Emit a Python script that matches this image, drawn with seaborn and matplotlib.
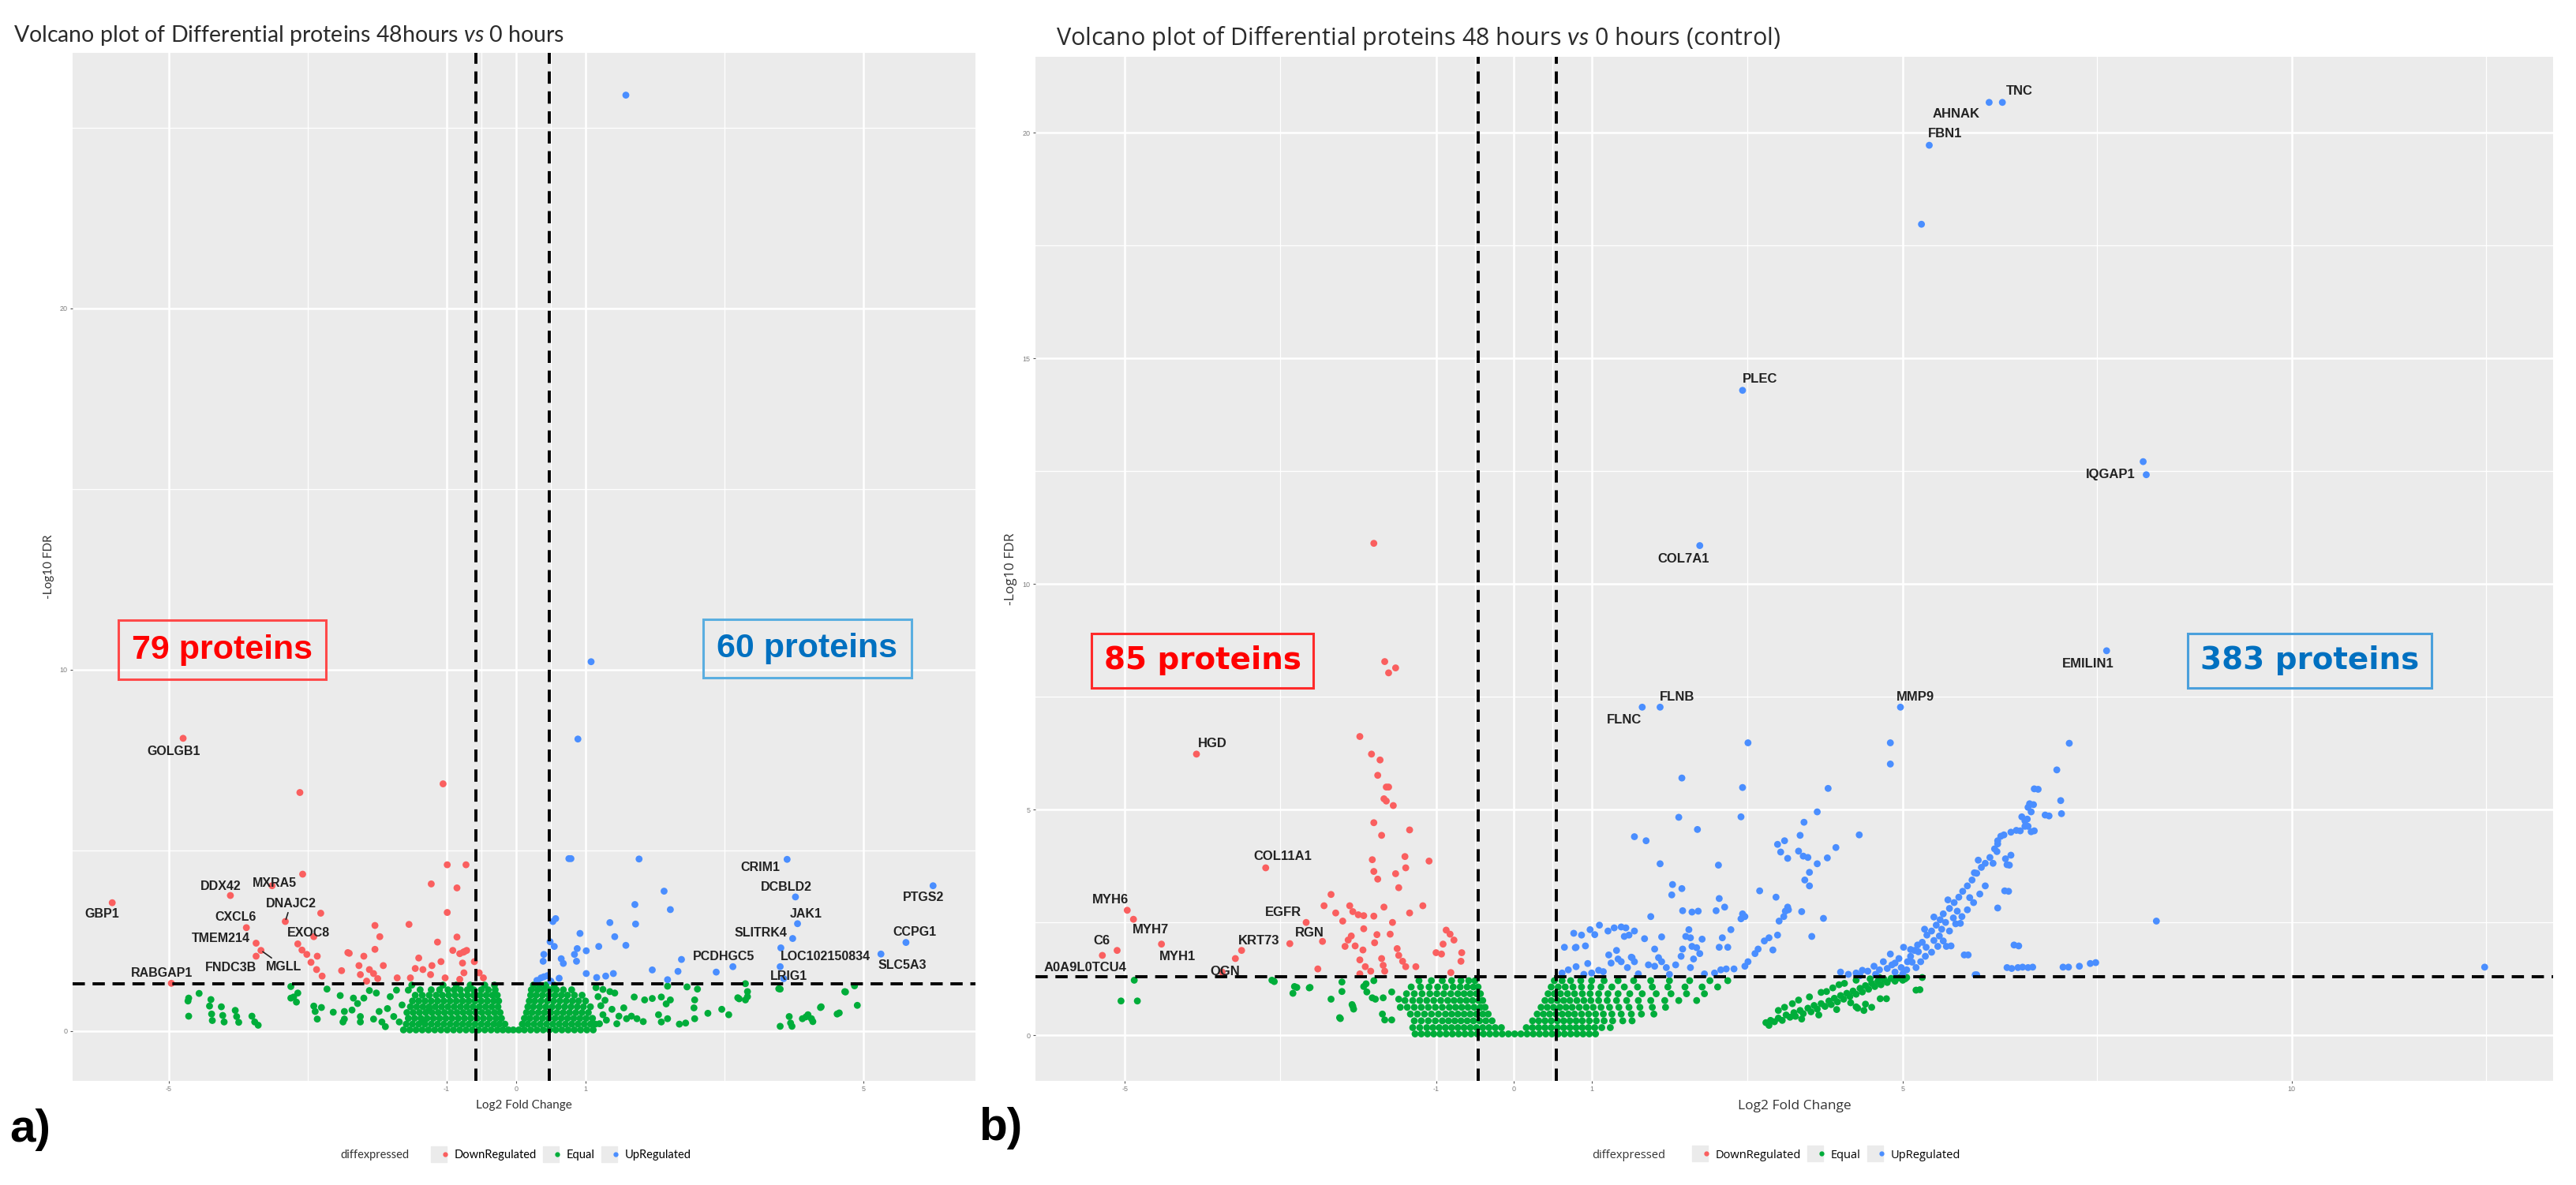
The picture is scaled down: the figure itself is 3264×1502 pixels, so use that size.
import pandas as pd
import matplotlib
matplotlib.use("Agg")
import matplotlib.pyplot as plt
from matplotlib.lines import Line2D
from matplotlib.legend_handler import HandlerTuple
import seaborn as sns

plt.rcParams['font.family'] = ['Liberation Sans', 'DejaVu Sans']
plt.rcParams['axes.unicode_minus'] = False
plt.rcParams['mathtext.fontset'] = 'custom'
plt.rcParams['mathtext.rm'] = 'Lato'
plt.rcParams['mathtext.it'] = 'Lato:italic'

W, H = 3264, 1502

PALETTE = {"DownRegulated": "#FA5F5F", "Equal": "#00AD3A", "UpRegulated": "#4A8EFF"}
GROUPS = ["DownRegulated", "Equal", "UpRegulated"]

# ---------------- panel a: 48hours vs 0 hours ----------------
a_down = [(-5.81, 3.55), (-4.96, 1.32), (-4.11, 3.75), (-3.51, 4.02), (-3.07, 4.34), (-3.32, 3.03),
          (-3.88, 2.86), (-3.74, 2.43), (-3.74, 2.07), (-3.67, 2.23), (-2.91, 2.61), (-2.81, 3.26),
          (-3.14, 2.41), (-3.08, 2.24), (-3.01, 2.12), (-2.86, 2.07), (-2.95, 1.90), (-2.87, 1.70),
          (-2.79, 1.52), (-2.03, 2.92), (-1.96, 2.61), (-2.03, 2.26), (-2.40, 2.15), (-2.19, 2.07),
          (-2.51, 1.67), (-2.26, 1.81), (-2.11, 1.70), (-1.91, 1.81), (-2.24, 1.56), (-2.05, 1.59),
          (-1.99, 1.45), (-2.15, 1.38), (-1.71, 1.47), (-1.54, 2.95), (-1.40, 2.02), (-1.45, 1.73),
          (-1.34, 1.70), (-1.21, 1.81), (-1.08, 1.92), (-1.23, 1.56), (-1.52, 1.47), (-1.02, 1.47),
          (-1.13, 2.46), (-1.22, 4.07), (-0.99, 4.60), (-0.72, 4.60), (-0.85, 3.96), (-0.99, 3.28),
          (-0.85, 2.60), (-0.91, 2.23), (-0.81, 2.14), (-0.71, 2.23), (-0.77, 1.88), (-0.75, 1.61),
          (-0.81, 1.43), (-0.60, 1.92), (-0.53, 1.61), (-0.47, 1.47), (-0.76, 2.18), (-0.74, 2.20),
          (-4.79, 8.10), (-3.11, 6.60), (-1.05, 6.84), (-2.42, 2.17)]

a_up = [(0.76, 4.77), (0.79, 4.77), (1.77, 4.76), (3.90, 4.75), (2.13, 3.87), (6.00, 4.02), (4.02, 3.71),
        (1.71, 3.50), (2.22, 3.36), (0.57, 3.11), (0.53, 3.03), (1.35, 3.00), (1.72, 2.96), (4.05, 2.97),
        (0.92, 2.70), (1.42, 2.61), (3.98, 2.56), (5.61, 2.45), (0.49, 2.47), (0.55, 2.34), (1.19, 2.34),
        (1.58, 2.37), (1.01, 2.22), (0.88, 2.28), (0.84, 2.12), (3.81, 2.30), (5.25, 2.13), (0.40, 2.12),
        (0.39, 1.93), (0.65, 2.00), (0.68, 1.87), (0.87, 1.93), (2.38, 1.98), (3.12, 1.78), (3.80, 1.78),
        (1.96, 1.69), (2.33, 1.65), (2.88, 1.63), (1.01, 1.59), (1.16, 1.48), (1.29, 1.52), (1.40, 1.59),
        (0.40, 1.50), (0.45, 1.53), (0.36, 1.47), (0.62, 1.46), (2.18, 1.42), (3.85, 1.45), (0.30, 1.40),
        (0.50, 1.38), (1.08, 10.22), (0.89, 8.08), (1.58, 25.9)]

a_equal_scatter = [(-4.71, 0.91), (-4.72, 0.83), (-4.71, 0.41), (-4.56, 1.04), (-4.39, 0.87), (-4.41, 0.69),
                   (-4.38, 0.47), (-4.37, 0.29), (-4.24, 0.67), (-4.22, 0.43), (-4.20, 0.25), (-4.04, 0.57),
                   (-4.02, 0.40), (-3.99, 0.24), (-3.80, 0.41), (-3.76, 0.25), (-3.71, 0.16), (-3.24, 1.23),
                   (-3.20, 0.94), (-3.14, 1.05), (-3.24, 0.91), (-3.16, 0.80), (-2.91, 0.69), (-2.89, 0.54),
                   (-2.86, 0.33), (-2.80, 0.65), (-2.63, 0.52), (-2.72, 1.16), (-2.53, 0.98), (-2.47, 0.54),
                   (-2.47, 0.33), (-2.49, 0.25), (-2.36, 0.58), (-2.34, 0.91), (-2.24, 0.40), (-2.24, 0.25),
                   (-2.28, 0.76), (-2.19, 0.91), (-2.11, 1.12), (-2.05, 0.33), (-1.97, 0.54), (-1.93, 0.25),
                   (-2.01, 1.05), (-1.85, 0.62), (-1.76, 0.40), (-1.72, 1.13), (-1.68, 0.25), (-1.55, 1.13),
                   (-1.50, 1.27), (-1.32, 0.25), (-1.25, 0.62), (-1.81, 0.95), (-1.88, 0.12), (-1.64, 0.72),
                   (2.18, 1.24), (2.46, 1.22), (2.61, 1.16), (3.30, 1.31), (3.33, 1.09), (3.19, 0.92),
                   (3.30, 0.86), (3.80, 1.16), (4.73, 1.09), (4.87, 1.25), (4.91, 0.71), (4.62, 0.47),
                   (4.38, 0.65), (4.20, 0.45), (4.25, 0.34), (4.12, 0.34), (4.27, 0.26), (3.93, 0.40),
                   (3.80, 0.13), (3.97, 0.13), (3.06, 0.45), (2.96, 0.60), (2.76, 0.49), (2.57, 0.86),
                   (2.56, 0.64), (2.57, 0.34), (2.44, 0.22), (2.35, 0.19), (2.22, 0.86), (2.09, 0.94),
                   (2.16, 0.75), (2.05, 0.45), (2.09, 0.25), (2.18, 0.34), (1.85, 0.86), (1.96, 0.90),
                   (1.70, 0.94), (1.83, 0.26), (1.74, 0.34), (1.66, 0.41), (1.42, 1.05), (1.55, 0.64),
                   (1.59, 0.34), (1.48, 0.41), (1.35, 1.09), (1.18, 0.95), (1.22, 0.70), (1.25, 0.45),
                   (1.20, 0.20), (1.30, 0.30), (1.28, 0.85), (1.38, 0.60), (1.45, 0.20), (1.15, 1.20),
                   (1.25, 1.15), (4.65, 0.50), (4.74, 1.08), (4.39, 0.67), (4.17, 0.39), (3.95, 0.22),
                   (3.33, 0.95), (3.21, 0.89), (3.78, 1.17)]

# dense cloud around log2FC = 0, read row by row
a_equal_rows = {
    0.03: [-1.62, -1.53, -1.44, -1.35, -1.26, -1.17, -1.08, -0.99, -0.90, -0.81, -0.72, -0.63, -0.54, -0.45,
           -0.36, -0.27, -0.19, -0.11, -0.04, 0.04, 0.12, 0.21, 0.30, 0.39, 0.48, 0.57, 0.66, 0.75, 0.84,
           0.93, 1.02, 1.11],
    0.19: [-1.58, -1.49, -1.40, -1.31, -1.22, -1.13, -1.04, -0.95, -0.86, -0.77, -0.68, -0.59, -0.50, -0.41,
           -0.32, -0.24, -0.16, 0.09, 0.17, 0.26, 0.35, 0.44, 0.53, 0.62, 0.71, 0.80, 0.89, 0.98, 1.07, 1.14],
    0.35: [-1.55, -1.46, -1.37, -1.28, -1.19, -1.10, -1.01, -0.92, -0.83, -0.74, -0.65, -0.56, -0.47, -0.38,
           -0.29, -0.21, 0.12, 0.20, 0.29, 0.38, 0.47, 0.56, 0.65, 0.74, 0.83, 0.92, 1.01, 1.10],
    0.51: [-1.57, -1.48, -1.39, -1.30, -1.21, -1.12, -1.03, -0.94, -0.85, -0.76, -0.67, -0.58, -0.49, -0.40,
           -0.31, -0.23, 0.15, 0.23, 0.32, 0.41, 0.50, 0.59, 0.68, 0.77, 0.86, 0.95, 1.04],
    0.67: [-1.52, -1.43, -1.34, -1.25, -1.16, -1.07, -0.98, -0.89, -0.80, -0.71, -0.62, -0.53, -0.44, -0.35,
           -0.26, 0.17, 0.25, 0.34, 0.43, 0.52, 0.61, 0.70, 0.79, 0.88, 0.97, 1.07],
    0.83: [-1.49, -1.40, -1.31, -1.22, -1.13, -1.04, -0.95, -0.86, -0.77, -0.68, -0.59, -0.50, -0.41, -0.32,
           -0.25, 0.19, 0.27, 0.36, 0.45, 0.54, 0.63, 0.72, 0.81, 0.90, 1.00],
    0.99: [-1.45, -1.35, -1.25, -1.15, -1.06, -0.97, -0.88, -0.79, -0.70, -0.61, -0.52, -0.43, -0.34, -0.27,
           0.21, 0.29, 0.38, 0.47, 0.56, 0.65, 0.74, 0.84, 0.95],
    1.14: [-1.38, -1.22, -1.10, -0.98, -0.89, -0.80, -0.70, -0.61, -0.50, -0.40, -0.30, 0.22, 0.31, 0.40,
           0.49, 0.58, 0.68, 0.80],
    1.27: [-1.05, -0.86, -0.66, -0.45, -0.31, 0.25, 0.34, 0.43, 0.55],
}

a_label_names = ["GOLGB1", "GBP1", "RABGAP1", "DDX42", "MXRA5", "DNAJC2", "CXCL6", "TMEM214", "EXOC8",
                 "FNDC3B", "MGLL", "CRIM1", "DCBLD2", "JAK1", "SLITRK4", "PCDHGC5", "LOC102150834",
                 "LRIG1", "PTGS2", "CCPG1", "SLC5A3"]
a_label_x = [-4.92, -5.96, -5.10, -4.25, -3.47, -3.24, -4.03, -4.25, -2.98, -4.10, -3.34, 3.52, 3.89, 4.17,
             3.52, 2.99, 4.45, 3.93, 5.86, 5.73, 5.56]
a_label_y = [7.74, 3.24, 1.61, 4.01, 4.09, 3.53, 3.14, 2.56, 2.72, 1.76, 1.78, 4.53, 3.98, 3.24, 2.71, 2.06,
             2.06, 1.51, 3.69, 2.73, 1.81]
a_segments = {"DNAJC2": (-3.32, 3.03), "MGLL": (-3.67, 2.23)}

# ---------------- panel b: 48 hours vs 0 hours (control) ----------------
b_down = [(-4.08, 6.23), (-1.98, 6.62), (-1.83, 6.23), (-1.72, 6.10), (-1.75, 5.76), (-1.64, 5.50),
          (-1.61, 5.50), (-1.67, 5.24), (-1.64, 5.19), (-1.55, 5.09), (-1.80, 4.71), (-1.70, 4.43),
          (-1.34, 4.55), (-1.66, 8.28), (-1.61, 8.03), (-1.52, 8.14), (-1.80, 10.9), (-3.19, 3.71),
          (-1.82, 3.89), (-1.40, 3.96), (-1.09, 3.86), (-1.39, 3.71), (-1.80, 3.63), (-1.75, 3.46),
          (-1.52, 3.58), (-1.48, 3.27), (-2.35, 3.12), (-4.97, 2.77), (-4.89, 2.57), (-2.44, 2.87),
          (-2.29, 2.71), (-2.20, 2.53), (-2.11, 2.87), (-2.07, 2.74), (-2.00, 2.67), (-1.93, 2.65),
          (-1.80, 2.64), (-1.67, 2.84), (-1.34, 2.71), (-1.17, 2.87), (-1.56, 2.50), (-2.67, 2.50),
          (-2.46, 2.08), (-1.93, 2.36), (-2.09, 2.20), (-2.13, 2.11), (-2.17, 1.97), (-2.04, 1.98),
          (-1.94, 1.89), (-1.76, 2.23), (-1.79, 2.05), (-1.59, 2.24), (-1.50, 1.92), (-1.48, 1.77),
          (-1.43, 1.64), (-1.39, 1.52), (-1.26, 1.52), (-1.98, 1.67), (-1.91, 1.52), (-1.84, 1.42),
          (-1.70, 1.70), (-1.68, 1.55), (-1.66, 1.42), (-1.98, 1.36), (-0.87, 2.33), (-0.82, 2.24),
          (-0.77, 2.11), (-0.91, 2.02), (-1.00, 1.83), (-0.93, 1.80), (-0.67, 1.83), (-0.68, 1.64),
          (-0.81, 1.39), (-2.52, 1.47), (-2.88, 2.03), (-3.50, 1.88), (-3.58, 1.70), (-4.53, 2.02),
          (-5.10, 1.88), (-5.29, 1.77), (-3.75, 1.40)]

b_up = [(6.28, 20.67), (6.11, 20.67), (5.34, 19.72), (5.24, 17.97), (2.94, 14.29), (2.39, 10.85),
        (8.09, 12.71), (8.13, 12.42), (7.62, 8.52), (1.65, 7.27), (1.88, 7.27), (4.97, 7.27),
        (3.01, 6.48), (4.84, 6.48), (4.84, 6.01), (2.16, 5.70), (2.94, 5.49), (4.04, 5.47), (6.69, 5.46),
        (3.90, 4.95), (6.83, 4.88), (6.63, 5.13), (6.61, 5.05), (6.53, 4.84), (6.57, 4.75), (6.61, 4.63),
        (6.65, 4.51), (6.46, 4.54), (2.12, 4.83), (2.92, 4.84), (2.36, 4.56), (3.73, 4.72), (3.68, 4.43),
        (4.44, 4.44), (1.55, 4.40), (1.70, 4.31), (3.39, 4.23), (3.48, 4.31), (3.43, 4.06), (3.52, 3.92),
        (3.66, 4.08), (3.72, 3.97), (3.78, 3.94), (4.14, 4.16), (4.03, 3.93), (1.88, 3.80), (2.63, 3.77),
        (3.90, 3.80), (3.80, 3.61), (3.74, 3.44), (3.80, 3.31), (2.04, 3.34), (2.03, 3.11), (2.16, 3.25),
        (3.16, 3.20), (3.37, 3.06), (2.64, 3.03), (2.71, 2.84), (2.60, 2.76), (2.17, 2.76), (2.29, 2.73),
        (2.37, 2.75), (1.76, 2.63), (2.94, 2.69), (2.97, 2.63), (2.92, 2.58), (3.47, 2.63), (3.49, 2.75),
        (3.52, 2.84), (3.53, 2.78), (3.41, 2.53), (3.70, 2.74), (3.98, 2.59), (2.25, 2.34), (2.21, 2.19),
        (2.27, 2.16), (2.42, 2.13), (2.79, 2.34), (2.68, 2.16), (2.64, 1.95), (2.75, 1.95), (1.90, 2.18),
        (3.83, 2.19), (3.39, 2.22), (3.28, 2.16), (3.22, 2.09), (3.33, 1.89), (3.14, 1.91), (3.10, 1.81),
        (3.01, 1.63), (2.97, 1.53), (2.83, 1.47), (2.73, 1.47), (2.66, 1.45), (2.58, 1.38), (1.29, 2.38),
        (1.10, 2.44), (0.98, 2.34), (0.87, 2.22), (1.44, 2.38), (1.48, 2.22), (1.42, 2.19), (1.32, 1.88),
        (1.22, 1.78), (1.81, 1.91), (1.86, 1.72), (1.90, 1.63), (1.81, 1.53), (0.95, 1.59), (1.15, 1.41),
        (1.09, 1.44), (1.34, 1.69), (1.38, 1.63), (1.52, 1.72), (1.55, 1.63), (1.46, 1.50), (1.73, 1.56),
        (1.96, 1.50), (2.08, 1.56), (2.15, 1.75), (2.17, 1.91), (2.29, 1.97), (2.35, 1.94), (2.39, 1.81),
        (2.31, 1.69), (2.27, 1.50), (1.04, 2.23), (1.21, 2.31), (1.38, 2.40), (1.55, 2.31), (0.92, 1.98),
        (0.79, 1.94), (1.68, 2.14), (1.51, 1.73), (0.77, 2.26), (0.80, 1.95), (0.65, 1.95), (0.70, 1.45),
        (0.80, 1.52), (0.62, 1.38), (0.90, 1.35), (1.00, 1.38), (1.25, 1.60), (1.60, 1.36), (2.00, 1.35),
        (2.45, 1.36), (4.48, 1.44), (4.63, 1.53), (4.75, 1.63), (4.86, 1.56), (4.98, 1.50), (5.06, 1.63),
        (5.10, 1.75), (5.15, 1.88), (5.19, 2.00), (5.25, 2.06), (5.31, 2.22), (5.37, 2.31), (5.43, 2.44),
        (5.48, 2.56), (5.52, 2.69), (5.60, 2.81), (5.66, 2.94), (5.72, 3.06), (5.77, 3.19), (5.83, 3.31),
        (5.89, 3.44), (5.95, 3.59), (6.01, 3.72), (6.06, 3.81), (6.12, 3.94), (6.18, 4.13), (6.22, 4.31),
        (6.30, 4.44), (6.39, 4.50), (5.17, 1.50), (5.23, 1.63), (5.29, 1.75), (5.37, 1.84), (5.45, 1.97),
        (5.52, 2.09), (5.60, 2.31), (5.68, 2.47), (5.76, 2.63), (5.83, 2.78), (5.91, 2.94), (5.99, 3.13),
        (6.06, 3.31), (5.97, 3.88), (4.30, 1.35), (4.40, 1.38), (4.55, 1.42), (4.70, 1.45), (4.80, 1.48),
        (4.90, 1.40), (5.00, 1.36), (4.65, 1.35), (4.45, 1.32), (4.90, 1.60), (5.05, 1.45), (4.95, 1.70),
        (5.10, 1.90), (5.20, 1.85), (5.30, 1.95), (5.40, 2.10), (5.50, 2.35), (5.55, 2.50), (5.65, 2.60),
        (6.74, 5.45), (6.68, 5.11), (6.65, 4.95), (6.60, 4.79), (6.57, 4.63), (7.03, 5.20), (7.04, 4.91),
        (6.88, 4.86), (6.69, 4.53), (6.51, 4.53), (6.98, 5.88), (7.14, 6.47), (6.26, 4.41), (6.22, 4.24),
        (6.21, 4.07), (6.39, 3.99), (6.32, 3.91), (6.37, 3.77), (6.36, 3.19), (6.22, 2.82), (5.74, 2.48),
        (5.62, 1.98), (5.84, 1.78), (6.49, 1.98), (8.26, 2.53), (5.95, 1.34), (6.40, 1.48), (6.54, 1.51),
        (6.67, 1.51), (7.06, 1.51), (7.13, 1.51), (7.27, 1.53), (7.41, 1.59), (7.48, 1.61), (12.48, 1.51),
        (6.34, 1.50), (6.48, 1.50), (6.61, 1.50), (6.43, 2.00), (6.31, 3.20), (6.16, 3.81), (6.34, 3.78),
        (5.93, 1.34), (5.79, 1.78), (5.56, 1.97), (5.28, 2.35), (5.40, 2.62), (5.58, 3.00), (5.70, 2.75),
        (5.12, 1.62), (4.84, 1.80), (5.01, 1.95), (5.47, 2.20), (5.86, 3.05), (5.92, 3.60), (4.20, 1.40)]

b_equal_scatter = [(-4.88, 1.22), (-5.05, 0.76), (-4.84, 0.76), (-3.11, 1.22), (-2.82, 1.08), (-2.84, 0.93),
                   (-2.63, 1.05), (-2.35, 0.80), (-2.21, 1.18), (-2.23, 0.37), (-2.08, 0.68), (-2.06, 0.58),
                   (-1.93, 1.08), (-1.89, 0.96), (-1.82, 0.83), (-1.80, 1.21), (-1.68, 0.83), (-1.66, 0.34),
                   (-1.57, 0.34), (-1.57, 0.96), (-1.48, 0.80), (-1.46, 0.62), (-2.79, 1.06), (-2.62, 1.06),
                   (-2.24, 0.39), (-2.07, 0.64), (-3.08, 1.19), (-2.21, 0.97), (-1.90, 1.14), (-1.78, 0.80),
                   (-1.69, 0.47),
                   (3.24, 0.28), (3.28, 0.22), (3.30, 0.33), (3.35, 0.30), (3.40, 0.38), (3.45, 0.33),
                   (3.50, 0.45), (3.55, 0.40), (3.60, 0.50), (3.62, 0.42), (3.68, 0.55), (3.72, 0.48),
                   (3.78, 0.60), (3.82, 0.52), (3.86, 0.66), (3.90, 0.58), (3.95, 0.70), (4.00, 0.64),
                   (4.05, 0.76), (4.08, 0.68), (4.12, 0.82), (4.16, 0.74), (4.20, 0.88), (4.24, 0.80),
                   (4.28, 0.93), (4.32, 0.86), (4.36, 0.98), (4.40, 0.91), (4.45, 1.04), (4.48, 0.96),
                   (4.52, 1.10), (4.56, 1.02), (4.60, 1.15), (4.64, 1.08), (4.68, 1.20), (4.72, 1.12),
                   (4.76, 1.24), (4.80, 1.17), (4.85, 1.26), (4.90, 1.20), (4.95, 1.27), (5.00, 1.22),
                   (5.05, 1.28), (5.17, 1.00), (4.50, 0.55), (4.42, 0.60), (4.60, 0.62), (3.95, 0.95),
                   (4.10, 1.05), (4.25, 1.15), (4.40, 1.22), (3.80, 0.85), (3.58, 0.70), (4.58, 1.25),
                   (4.70, 1.28), (3.40, 0.55), (4.40, 0.63), (4.52, 0.69), (4.71, 0.81), (4.79, 0.81),
                   (5.22, 1.01), (5.25, 1.28), (4.98, 1.28), (5.03, 1.25), (3.70, 0.36), (3.92, 0.45),
                   (4.15, 0.57), (4.33, 0.72), (3.48, 0.62), (3.66, 0.78), (4.02, 0.97), (4.18, 1.12)]

b_equal_rows = {
    0.03: [-1.27, -1.19, -1.11, -1.03, -0.95, -0.87, -0.79, -0.71, -0.63, -0.55, -0.47, -0.39, -0.31, -0.23,
           -0.15, -0.07, 0.01, 0.09, 0.17, 0.25, 0.33, 0.41, 0.49, 0.57, 0.65, 0.73, 0.81, 0.89, 0.97, 1.05],
    0.17: [-1.30, -1.21, -1.12, -1.04, -0.96, -0.88, -0.80, -0.72, -0.64, -0.56, -0.48, -0.40, -0.32, -0.24,
           -0.16, 0.16, 0.24, 0.32, 0.40, 0.48, 0.56, 0.64, 0.72, 0.80, 0.88, 0.96, 1.04, 1.13, 1.24],
    0.32: [-1.28, -1.19, -1.10, -1.01, -0.92, -0.84, -0.76, -0.68, -0.60, -0.52, -0.44, -0.36, -0.28, 0.24,
           0.32, 0.40, 0.48, 0.56, 0.64, 0.72, 0.80, 0.88, 0.97, 1.06, 1.16, 1.27, 1.40, 1.52],
    0.47: [-1.33, -1.24, -1.15, -1.06, -0.97, -0.88, -0.80, -0.72, -0.64, -0.56, -0.48, -0.40, -0.33, 0.30,
           0.38, 0.46, 0.54, 0.62, 0.70, 0.78, 0.87, 0.96, 1.05, 1.15, 1.26, 1.38, 1.51, 1.64, 1.80],
    0.62: [-1.37, -1.28, -1.19, -1.10, -1.01, -0.92, -0.83, -0.75, -0.67, -0.59, -0.51, -0.43, -0.37, 0.35,
           0.43, 0.51, 0.59, 0.67, 0.75, 0.84, 0.93, 1.02, 1.12, 1.23, 1.35, 1.48, 1.62, 1.78, 1.95],
    0.77: [-1.40, -1.30, -1.21, -1.12, -1.03, -0.94, -0.85, -0.77, -0.69, -0.61, -0.53, -0.45, -0.40, 0.40,
           0.48, 0.56, 0.64, 0.72, 0.81, 0.90, 0.99, 1.09, 1.20, 1.32, 1.45, 1.60, 1.76, 1.94, 2.12, 2.35],
    0.92: [-1.38, -1.28, -1.18, -1.08, -0.99, -0.90, -0.81, -0.72, -0.64, -0.56, -0.48, -0.43, 0.44, 0.52,
           0.60, 0.69, 0.78, 0.88, 0.98, 1.09, 1.21, 1.34, 1.49, 1.65, 1.83, 2.02, 2.22, 2.45],
    1.07: [-1.32, -1.20, -1.09, -0.98, -0.88, -0.78, -0.69, -0.60, -0.52, -0.46, 0.48, 0.57, 0.66, 0.76,
           0.87, 0.99, 1.12, 1.26, 1.42, 1.59, 1.78, 1.98, 2.20, 2.42, 2.62],
    1.21: [-1.22, -1.06, -0.92, -0.80, -0.68, -0.58, -0.50, 0.52, 0.62, 0.73, 0.86, 1.00, 1.16, 1.34, 1.54,
           1.76, 2.00, 2.26, 2.52, 2.75],
}

b_label_names = ["TNC", "AHNAK", "FBN1", "PLEC", "IQGAP1", "COL7A1", "EMILIN1", "FLNB", "FLNC", "MMP9",
                 "HGD", "COL11A1", "MYH6", "MYH7", "C6", "MYH1", "A0A9L0TCU4", "OGN", "KRT73", "EGFR", "RGN"]
b_label_x = [6.50, 5.69, 5.54, 3.16, 7.67, 2.18, 7.38, 2.10, 1.42, 5.16, -3.87, -2.97, -5.19, -4.67, -5.30,
             -4.32, -5.51, -3.71, -3.28, -2.96, -2.63]
b_label_y = [20.92, 20.42, 19.97, 14.54, 12.42, 10.55, 8.23, 7.50, 6.99, 7.50, 6.46, 3.97, 3.01, 2.33, 2.10,
             1.74, 1.49, 1.41, 2.09, 2.73, 2.26]


def build_frame(equal_scatter, equal_rows, down, up):
    rows = [(x, y, "Equal") for x, y in equal_scatter]
    for y, xs in equal_rows.items():
        rows += [(x, y, "Equal") for x in xs]
    rows += [(x, y, "DownRegulated") for x, y in down]
    rows += [(x, y, "UpRegulated") for x, y in up]
    return pd.DataFrame(rows, columns=["log2FC", "negLog10FDR", "diffexpressed"])


def style_axes(ax, xlim, ylim, xmajor, xminor, ymajor, yminor, family, label_size):
    ax.set_facecolor("#EBEBEB")
    ax.set_xlim(xlim)
    ax.set_ylim(ylim)
    ax.set_xticks(xmajor)
    ax.set_xticks(xminor, minor=True)
    ax.set_yticks(ymajor)
    ax.set_yticks(yminor, minor=True)
    ax.set_xticklabels([f"{v:g}" for v in xmajor])
    ax.set_yticklabels([f"{v:g}" for v in ymajor])
    ax.grid(which="major", color="white", linewidth=1.8)
    ax.grid(which="minor", color="white", linewidth=0.9)
    ax.set_axisbelow(True)
    for s in ax.spines.values():
        s.set_visible(False)
    ax.tick_params(which="major", length=2.5, width=0.8, color="#555555", labelsize=6.5,
                   labelcolor="#7f7f7f", pad=2)
    ax.tick_params(which="minor", length=0)
    ax.set_xlabel("Log2 Fold Change", family=family, fontsize=label_size, color="#333333", labelpad=6)
    ax.set_ylabel("-Log10 FDR", family=family, fontsize=label_size, color="#333333", labelpad=5)


def draw_volcano(ax, df, vlines, hline):
    sns.scatterplot(data=df, x="log2FC", y="negLog10FDR", hue="diffexpressed", palette=PALETTE,
                    s=40, linewidth=0, legend=False, ax=ax, zorder=3)
    for v in vlines:
        ax.axvline(v, color="black", linestyle=(0, (4, 2.5)), linewidth=2.8, zorder=4)
    ax.axhline(hline, color="black", linestyle=(0, (4, 2.5)), linewidth=2.8, zorder=4)


def add_labels(ax, names, xs, ys, size, segments=None):
    segments = segments or {}
    for name, x, y in zip(names, xs, ys):
        if name in segments:
            ax.annotate(name, xy=segments[name], xytext=(x, y), ha="center", va="center",
                        fontsize=size, fontweight="bold", color="#222222", zorder=6,
                        arrowprops=dict(arrowstyle="-", color="#222222", lw=1.2, shrinkA=1, shrinkB=2))
        else:
            ax.text(x, y, name, ha="center", va="center", fontsize=size, fontweight="bold",
                    color="#222222", zorder=6)


def add_count_box(ax, x, y, text, color, edge, family, size):
    ax.text(x, y, text, ha="center", va="center", color=color, fontsize=size, fontweight="bold",
            family=family, zorder=7,
            bbox=dict(boxstyle="square,pad=0.4", facecolor="none", edgecolor=edge, linewidth=2.2))


def add_legend(fig, title_x, keys_x, y, family, size):
    fig.text(title_x, y, "diffexpressed", ha="left", va="center", family=family, fontsize=size,
             color="#333333")
    handles = [(Line2D([], [], marker="s", markersize=15, color="#EBEBEB", linestyle=""),
                Line2D([], [], marker="o", markersize=3.5, color=PALETTE[g], linestyle=""))
               for g in GROUPS]
    fig.legend(handles, GROUPS, handler_map={tuple: HandlerTuple(ndivide=None, pad=0)},
               loc="center left", bbox_to_anchor=(keys_x, y), ncol=3, frameon=False,
               prop={"family": family, "size": size}, handlelength=1.1, handletextpad=0.5,
               columnspacing=1.0, borderaxespad=0, borderpad=0)


fig = plt.figure(figsize=(W / 100, H / 100), dpi=100)
ax_a = fig.add_axes([92 / W, 1 - 1370 / H, (1236 - 92) / W, (1370 - 67) / H])
ax_b = fig.add_axes([1312 / W, 1 - 1370 / H, (3235 - 1312) / W, (1370 - 72) / H])

df_a = build_frame(a_equal_scatter, a_equal_rows, a_down, a_up)
df_b = build_frame(b_equal_scatter, b_equal_rows, b_down, b_up)

draw_volcano(ax_a, df_a, [-0.58, 0.48], 1.3)
style_axes(ax_a, (-6.38, 6.61), (-1.38, 27.07), [-5, -1, 0, 1, 5], [-3, -0.5, 0.5, 3],
           [0, 10, 20], [5, 15, 25], "Lato", 11)
add_labels(ax_a, a_label_names, a_label_x, a_label_y, 11.5, a_segments)
add_count_box(ax_a, -4.23, 10.55, "79 proteins", "#FF0000", "#FF4A4A", "Liberation Sans", 31)
add_count_box(ax_a, 4.19, 10.59, "60 proteins", "#0070C0", "#5AAEE0", "Liberation Sans", 31)

draw_volcano(ax_b, df_b, [-0.46, 0.55], 1.3)
style_axes(ax_b, (-6.15, 13.36), (-1.01, 21.68), [-5, -1, 0, 1, 5, 10], [-3, -0.5, 0.5, 3, 7.5, 12.5],
           [0, 5, 10, 15, 20], [2.5, 7.5, 12.5, 17.5], "Open Sans", 12.5)
add_labels(ax_b, b_label_names, b_label_x, b_label_y, 12)
add_count_box(ax_b, -4.0, 8.30, "85 proteins", "#FF0000", "#FF2A2A", "DejaVu Sans", 28)
add_count_box(ax_b, 10.23, 8.30, "383 proteins", "#0070C0", "#4AA0DC", "DejaVu Sans", 28)

fig.text(17 / W, 1 - 45 / H, "Volcano plot of Differential proteins 48hours $\\mathit{vs}$ 0 hours",
         ha="left", va="center", family="Lato", fontsize=20.5, color="#2b2b2b")
fig.text(1338 / W, 1 - 48 / H, "Volcano plot of Differential proteins 48 hours $\\mathit{vs}$ 0 hours (control)",
         ha="left", va="center", family="Open Sans", fontsize=22, color="#2b2b2b")

fig.text(38 / W, 1 - 1432 / H, "a)", ha="center", va="center", fontsize=42, fontweight="bold")
fig.text(1268 / W, 1 - 1430 / H, "b)", ha="center", va="center", fontsize=42, fontweight="bold")

add_legend(fig, 431 / W, 552 / W, 1 - 1464 / H, "Lato", 10.5)
add_legend(fig, 2017 / W, 2150 / W, 1 - 1464 / H, "Open Sans", 10.5)

fig.savefig("out.png", dpi=100, facecolor="white")
